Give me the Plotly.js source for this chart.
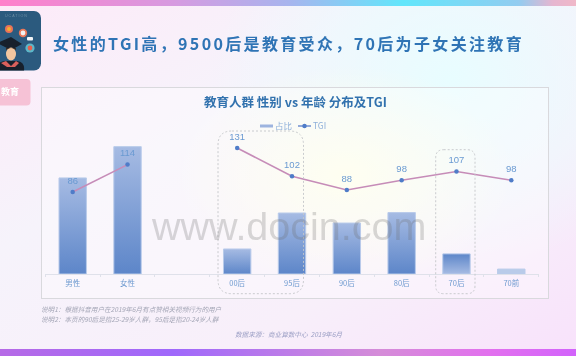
<!DOCTYPE html>
<html><head><meta charset="utf-8">
<script src="https://cdn.plot.ly/plotly-3.0.1.min.js"></script>
<style>
html,body{margin:0;padding:0;width:576px;height:356px;overflow:hidden}
#bg{position:absolute;left:0;top:0;width:576px;height:356px;filter:blur(.5px)}
#chart{position:absolute;left:0;top:0;width:576px;height:356px;filter:blur(.45px)}
</style></head><body>
<svg id="bg" width="576" height="356" viewBox="0 0 576 356">
<defs>
<linearGradient id="top"><stop offset="0" stop-color="#ff7fca"/><stop offset=".3" stop-color="#d79ae0"/><stop offset=".5" stop-color="#a8b4ee"/><stop offset=".7" stop-color="#62e6fb"/><stop offset=".9" stop-color="#92ccf0"/><stop offset=".96" stop-color="#e6b6d0"/><stop offset="1" stop-color="#f0b8c8"/></linearGradient>
<linearGradient id="bot"><stop offset="0" stop-color="#b66ae6"/><stop offset=".3" stop-color="#9f68fb"/><stop offset=".66" stop-color="#d58cd8"/><stop offset=".85" stop-color="#e270ee"/><stop offset="1" stop-color="#d263fb"/></linearGradient>
<linearGradient id="base" x1="0" y1="0" x2="1" y2="1"><stop offset="0" stop-color="#fdeaf8"/><stop offset=".35" stop-color="#f6f3fb"/><stop offset=".7" stop-color="#f8effa"/><stop offset="1" stop-color="#f8e2fb"/></linearGradient>
<radialGradient id="cy" cx=".5" cy=".5" r=".5"><stop offset="0" stop-color="#e8fdff"/><stop offset="1" stop-color="#e8fdff" stop-opacity="0"/></radialGradient>
<radialGradient id="ye" cx=".5" cy=".5" r=".5"><stop offset="0" stop-color="#fefee9"/><stop offset="1" stop-color="#fefee9" stop-opacity="0"/></radialGradient>
</defs>
<rect width="576" height="356" fill="url(#base)"/>
<ellipse cx="450" cy="80" rx="240" ry="190" fill="url(#cy)"/>
<ellipse cx="345" cy="175" rx="170" ry="110" fill="url(#ye)"/>
<rect x="0" y="0" width="576" height="6" fill="url(#top)"/>
<rect x="0" y="349" width="576" height="7" fill="url(#bot)"/>
<rect x="-10" y="11" width="51" height="59.5" rx="7" fill="#2b5a7e"/>
<text x="5" y="17" font-family="Liberation Sans" font-size="3.6" letter-spacing="1" fill="#6f8fa6">UCATION</text>
<circle cx="9" cy="29" r="4" fill="#e8735a"/><circle cx="9" cy="29" r="2" fill="#f6b030"/>
<circle cx="23" cy="33" r="4.2" fill="#e8785a"/><circle cx="23" cy="33" r="2.4" fill="#f2f2f0"/>
<circle cx="30" cy="48" r="4.6" fill="#5db7c8"/><circle cx="30" cy="48" r="2.4" fill="#e8604e"/>
<rect x="27" y="37" width="6" height="3.5" rx="1" fill="#f0f4f6"/>
<path d="M-3 43 L11 37 L22 44 L11 50Z" fill="#17202c"/>
<ellipse cx="11" cy="54" rx="5" ry="6.5" fill="#f2c6a0"/><path d="M6 50 Q11 46 16 50 L16 48 L6 48Z" fill="#3a2a20"/>
<path d="M-4 70.5 Q-4 62 5 61 L17 61 Q25 62 24 70.5Z" fill="#17202c"/>
<path d="M1 63 L6 61 L11 66 L16 61 L19 63 L15 67 L7 67Z" fill="#d9605c"/>
<rect x="-10" y="79" width="40.5" height="26.5" rx="4" fill="#f6c2d6"/>
<rect x="41.5" y="87.5" width="507" height="211" fill="#ffffff" fill-opacity=".35" stroke="#d9d9dd" stroke-width="1"/>
</svg>
<div id="chart"></div>
<script>
var categories = ['男性','女性',' ','00后','95后','90后','80后','70后','70前'];
var shareValues = [43, 57, null, 11.2, 27.3, 22.8, 27.5, 9, 2.2];
var tgiValues = [86, 114, null, 131, 102, 88, 98, 107, 98];
var titleText = '女性的TGI高，9500后是教育受众，70后为子女关注教育';
var chartTitle = '教育人群 性别 vs 年龄 分布及TGI';
var noteOne = '说明1：根据抖音用户在2019年6月有点赞相关视频行为的用户';
var noteTwo = '说明2：本页的90后是指25-29岁人群，95后是指20-24岁人群';
var sourceText = '数据来源：商业算数中心  2019年6月';
var watermark = 'www.docin.com';

var L=45,R=539,T=110,B=274,W=576,H=356;
function px(x){return (x-L)/(R-L);}
function py(y){return (B-y)/(B-T);}
var FONT='"Noto Sans CJK SC","Liberation Sans",sans-serif';
function note(text,x,y,size,color,anchor){
  return {text:text,xref:'paper',yref:'paper',x:px(x),y:py(y),xanchor:anchor||'left',yanchor:'middle',
    showarrow:false,font:{family:FONT,size:size,color:color}};
}
var annotations=[
  note('<b>'+titleText+'</b>',51,42.5,16,'#2f74b5','left'),
  note('<b>教育</b>',21,92,9,'#ffffff','right'),
  note('<b>'+chartTitle+'</b>',295,101,12.5,'#3272ae','center'),
  note('<i>'+noteOne+'</i>',39,309.3,6.6,'#a4a6b6','left'),
  note('<i>'+noteTwo+'</i>',39,318.5,6.6,'#a4a6b6','left'),
  note('<i>'+sourceText+'</i>',233,334,6.6,'#9a9ec4','left'),
  {text:watermark,xref:'paper',yref:'paper',x:px(288),y:py(226),xanchor:'center',yanchor:'middle',showarrow:false,
   font:{family:'"Liberation Sans",sans-serif',size:39.5,color:'rgba(110,110,110,0.26)'}}
];
function box(x0,y0,x1,y1,r){
  var p='M'+px(x0+r)+','+py(y0)+' L'+px(x1-r)+','+py(y0)+' Q'+px(x1)+','+py(y0)+' '+px(x1)+','+py(y0+r)+
        ' L'+px(x1)+','+py(y1-r)+' Q'+px(x1)+','+py(y1)+' '+px(x1-r)+','+py(y1)+
        ' L'+px(x0+r)+','+py(y1)+' Q'+px(x0)+','+py(y1)+' '+px(x0)+','+py(y1-r)+
        ' L'+px(x0)+','+py(y0+r)+' Q'+px(x0)+','+py(y0)+' '+px(x0+r)+','+py(y0)+' Z';
  return {type:'path',xref:'paper',yref:'paper',path:p,line:{color:'#c4c6ca',width:0.9,dash:'2px,2px'},fillcolor:'rgba(0,0,0,0)'};
}
var traces=[
 {type:'bar',name:'占比',x:categories,y:shareValues,width:0.5,yaxis:'y',
  marker:{color:'#9db4df',line:{color:'#b9cbea',width:1}},hoverinfo:'skip'},
 {type:'scatter',mode:'lines+markers+text',name:'TGI',x:categories,y:tgiValues,yaxis:'y2',
  connectgaps:false,line:{color:'#c68cb8',width:1.6},marker:{color:'#4f7cc8',size:4.5},
  text:tgiValues.map(function(v){return v===null?'':String(v);}),textposition:'top center',cliponaxis:false,
  textfont:{family:'"Liberation Sans",sans-serif',size:9.5,color:'#6a9ad2'},hoverinfo:'skip'}
];
var layout={
 width:W,height:H,margin:{l:L,r:W-R,t:T,b:H-B,pad:0},
 paper_bgcolor:'rgba(0,0,0,0)',plot_bgcolor:'rgba(0,0,0,0)',
 showlegend:true,
 legend:{orientation:'h',x:px(254),y:py(126),xanchor:'left',yanchor:'middle',bgcolor:'rgba(0,0,0,0)',
   font:{family:FONT,size:8.5,color:'#8fb0da'},itemwidth:30,traceorder:'normal'},
 xaxis:{type:'category',categoryorder:'array',categoryarray:categories,showgrid:false,zeroline:false,
   showline:true,linecolor:'#dfe1ea',linewidth:1,ticks:'outside',ticklen:2,tickcolor:'#dfe1ea',tickson:'boundaries',
   ticklabelstandoff:2,tickfont:{family:FONT,size:7.5,color:'#6f9bd0'},tickangle:0},
 yaxis:{range:[0,73.4],visible:false,fixedrange:true},
 yaxis2:{range:[2,169.9],overlaying:'y',side:'right',visible:false,fixedrange:true},
 shapes:[box(218,131,303.5,293.7,14),box(435.7,149.7,475,293.7,8)],
 annotations:annotations
};
Plotly.newPlot('chart',traces,layout,{staticPlot:true,displayModeBar:false}).then(function(gd){
  var svg=gd.querySelector('.main-svg');
  var ns='http://www.w3.org/2000/svg';
  var defs=document.createElementNS(ns,'defs');
  function grad(id,a,b){
    var g=document.createElementNS(ns,'linearGradient');g.setAttribute('id',id);
    g.setAttribute('x1','0');g.setAttribute('y1','0');g.setAttribute('x2','0');g.setAttribute('y2','1');
    [[0,a],[1,b]].forEach(function(s){var st=document.createElementNS(ns,'stop');st.setAttribute('offset',s[0]);st.setAttribute('stop-color',s[1]);g.appendChild(st);});
    defs.appendChild(g);
  }
  grad('barDown','#a6bbe3','#5d86c9');grad('barUp','#5d86c9','#a6bbe3');
  svg.insertBefore(defs,svg.firstChild);
  var paths=gd.querySelectorAll('.bars .point path');
  paths.forEach(function(p,i){
    var n=paths.length;
    p.style.fill=i===n-1?'#b9cbe9':(i===n-2?'url(#barUp)':'url(#barDown)');
  });
  // lift the TGI value labels slightly off the line
  gd.querySelectorAll('.scatterlayer .textpoint text').forEach(function(e){
    e.setAttribute('y',parseFloat(e.getAttribute('y'))-2);
  });
  // page title: tracked type, anchored at its left end
  var t=gd.querySelector('.annotation-text');
  if(t){
    var b=t.getBBox();
    t.setAttribute('text-anchor','start');
    t.setAttribute('x',b.x);
    t.style.textAnchor='start';
    t.style.letterSpacing='2.35px';
  }
  // compact legend: flat bar swatch, short line key
  var items=gd.querySelectorAll('.legend .traces');
  var lg=gd.querySelector('.legend');
  if(items.length===2){
    var m=/translate\(([-\d.]+)[ ,]+([-\d.]+)\)/.exec(items[0].getAttribute('transform'));
    var yy=m?parseFloat(m[2]):0;
    lg.setAttribute('transform','translate(246.5,'+(126-yy)+')');
    items[0].setAttribute('transform','translate(0,'+yy+')');
    items[1].setAttribute('transform','translate(38,'+yy+')');
    items.forEach(function(it){
      var tx=it.querySelector('.legendtext');if(tx){tx.setAttribute('x',28.5);}
    });
    var sw=items[0].querySelector('.legendpoints path, .legendbar path');
    if(!sw){sw=items[0].querySelector('.legendundefined path');}
    if(sw){sw.setAttribute('d','M6.5,1.5H-6.5V-1.5H6.5Z');sw.style.strokeWidth='0';}
    var ln=items[1].querySelector('.legendlines path, .js-line');
    if(ln){ln.setAttribute('d','M13.5,0h13');ln.style.stroke='#6f8fd0';}
  }
});
</script>
</body></html>
